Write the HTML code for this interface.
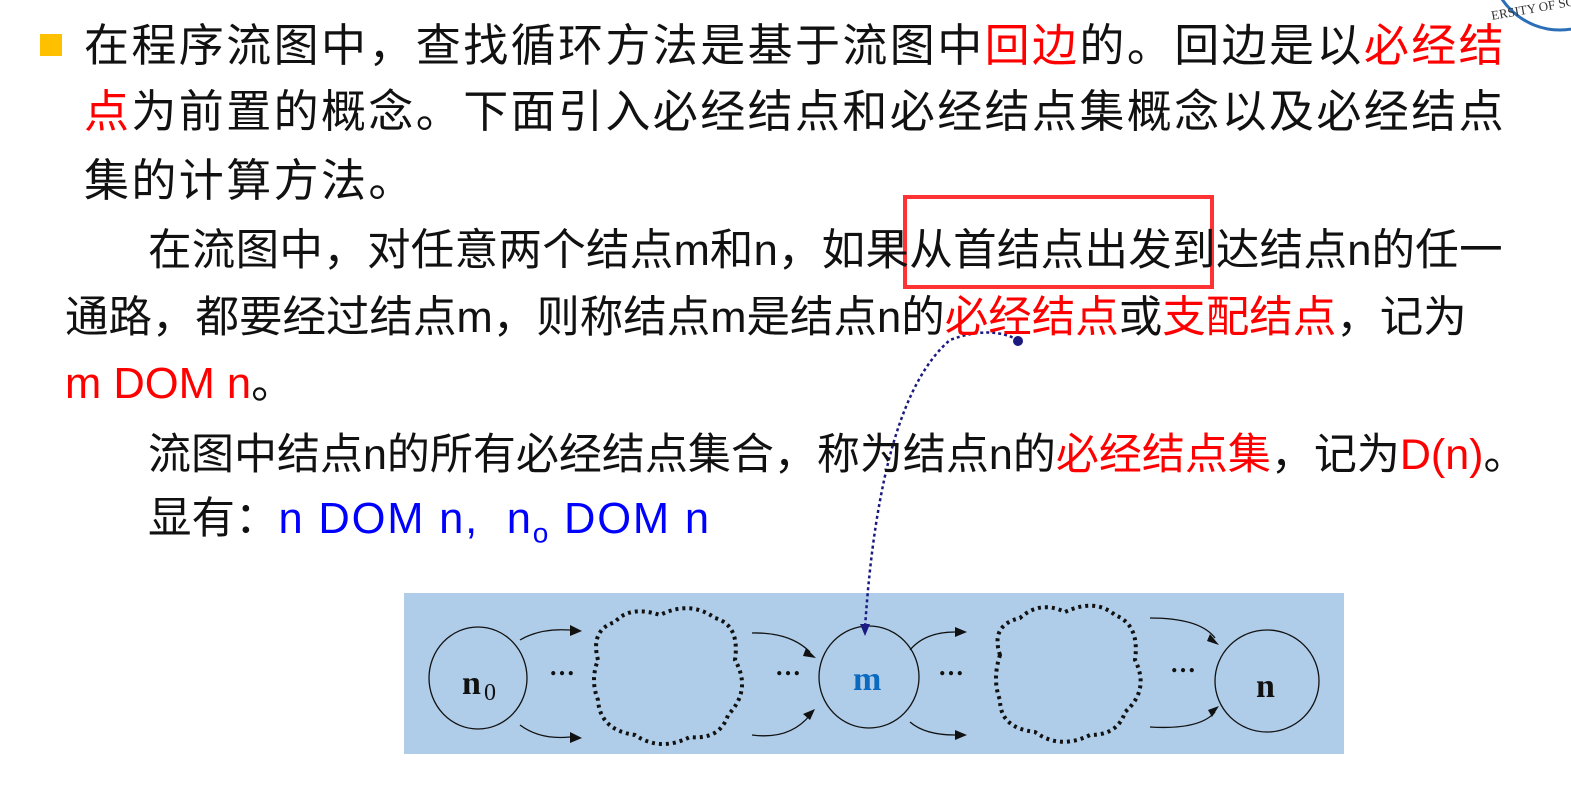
<!DOCTYPE html>
<html><head><meta charset="utf-8"><style>
body{margin:0;width:1571px;height:786px;background:#fff;position:relative;overflow:hidden;font-family:"Liberation Sans","Noto Sans CJK SC",sans-serif;}
.l{position:absolute;white-space:nowrap;font-size:45px;letter-spacing:2.4px;color:#111;line-height:1;}
.p{font-size:43.5px;letter-spacing:0}
.r{color:#f00}.b{color:#0000ff}.e{letter-spacing:0}
</style></head><body>
<svg width="1571" height="786" style="position:absolute;left:0;top:0">
<circle cx="1560" cy="-40" r="70" fill="#fff" stroke="#2a6fb8" stroke-width="3"/>
<text x="1492" y="20" font-family="Liberation Serif" font-size="13" fill="#333" transform="rotate(-10 1492 20)">ERSITY OF SCIEN</text>
<rect x="40" y="34" width="22" height="22" fill="#ffc000"/>
<rect x="905" y="197" width="307" height="90" fill="none" stroke="#f33" stroke-width="4"/>
<rect x="404" y="593" width="940" height="161" fill="#afcde9"/>
<g fill="none" stroke="#111" stroke-width="1.3">
<ellipse cx="478" cy="678" rx="49" ry="51"/>
<ellipse cx="869" cy="677" rx="50" ry="51"/>
<ellipse cx="1267" cy="681" rx="52" ry="51"/>
<path d="M520 640 Q540 628 570 630"/><path d="M520 725 Q540 740 570 737"/>
<path d="M752 633 Q790 632 810 652"/><path d="M752 735 Q790 740 810 715"/>
<path d="M910 650 Q925 632 955 632"/><path d="M910 722 Q925 735 955 735"/>
<path d="M1150 618 Q1200 618 1215 638"/><path d="M1150 727 Q1200 730 1215 712"/>
</g>
<g fill="#111">
<polygon points="570,625 582,631 570,636"/><polygon points="570,732 582,738 570,743"/>
<polygon points="806,648 816,658 803,656"/><polygon points="803,714 815,709 810,720"/>
<polygon points="955,627 967,632 955,637"/><polygon points="955,730 967,735 955,740"/>
<polygon points="1210,634 1219,645 1207,641"/><polygon points="1208,710 1219,706 1212,717"/>
</g>
<g fill="none" stroke="#111" stroke-width="4" stroke-dasharray="3 4">
<path d="M598 660 Q590 630 615 622 Q630 605 660 615 Q690 600 715 618 Q740 625 735 660 Q752 690 728 715 Q720 740 690 737 Q660 752 635 735 Q600 730 598 700 Q590 680 598 660Z"/>
<path d="M1000 655 Q990 625 1020 618 Q1040 600 1065 612 Q1095 598 1115 615 Q1140 625 1135 660 Q1150 690 1125 712 Q1118 735 1090 735 Q1060 750 1035 732 Q1000 728 1000 700 Q992 680 1000 655Z"/>
</g>
<path d="M1018 340 Q990 325 950 340 Q880 400 865 628" fill="none" stroke="#1a1a80" stroke-width="2.5" stroke-dasharray="3 3"/>
<circle cx="1018" cy="341" r="5" fill="#1a1a80"/>
<polygon points="860,624 870,624 865,636" fill="#1a1a80"/>
<text x="462" y="694" font-family="Liberation Serif" font-weight="bold" font-size="34" fill="#111">n</text>
<text x="484" y="700" font-family="Liberation Serif" font-size="24" fill="#111">0</text>
<text x="853" y="690" font-family="Liberation Serif" font-weight="bold" font-size="34" fill="#0a6ac0">m</text>
<text x="1256" y="697" font-family="Liberation Serif" font-weight="bold" font-size="34" fill="#111">n</text>
<g font-family="Liberation Serif" font-weight="bold" font-size="26" fill="#111">
<text x="549" y="675">…</text><text x="775" y="675">…</text><text x="938" y="675">…</text><text x="1170" y="672">…</text>
</g>
</svg>
<div class="l" style="left:84px;top:23px">在程序流图中，查找循环方法是基于流图中<span class="r">回边</span>的。回边是以<span class="r">必经结</span></div>
<div class="l" style="left:84px;top:89px"><span class="r">点</span>为前置的概念。下面引入必经结点和必经结点集概念以及必经结点</div>
<div class="l" style="left:84px;top:158px">集的计算方法。</div>
<div class="l p" style="left:148px;top:230px;letter-spacing:0.3px">在流图中，对任意两个结点<span class="e">m</span>和<span class="e">n</span>，如果从首结点出发到达结点<span class="e">n</span>的任一</div>
<div class="l p" style="left:65px;top:297px">通路，都要经过结点<span class="e">m</span>，则称结点<span class="e">m</span>是结点<span class="e">n</span>的<span class="r">必经结点</span>或<span class="r">支配结点</span>，记为</div>
<div class="l p" style="left:65px;top:363px"><span class="r e">m DOM n</span>。</div>
<div class="l p" style="left:148px;top:434px;font-size:43px">流图中结点<span class="e">n</span>的所有必经结点集合，称为结点<span class="e">n</span>的<span class="r">必经结点集</span>，记为<span class="r e">D(n)</span>。</div>
<div class="l p" style="left:148px;top:498px">显有：<span class="b" style="letter-spacing:1.8px">n DOM n,&nbsp; n<sub style="font-size:28px">o</sub> DOM n</span></div>
</body></html>
